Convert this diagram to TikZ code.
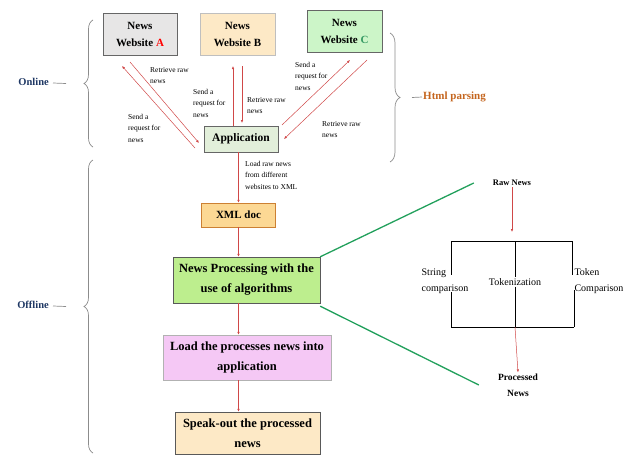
\documentclass[tikz,border=0pt]{standalone}
\usepackage{fontspec}
\setmainfont{Liberation Serif}
\usetikzlibrary{arrows.meta,decorations.pathreplacing,positioning}

\definecolor{boxgray}{HTML}{E7E6E6}
\definecolor{boxtan}{HTML}{FDE9C6}
\definecolor{boxgreen}{HTML}{CCF5C8}
\definecolor{boxapp}{HTML}{E2EFDA}
\definecolor{boxxml}{HTML}{FCD894}
\definecolor{boxproc}{HTML}{BDEE8E}
\definecolor{boxpink}{HTML}{F5C8F5}
\definecolor{arrowred}{HTML}{D04848}
\definecolor{linegreen}{HTML}{22A05C}
\definecolor{navy}{HTML}{1F3864}
\definecolor{parsebrown}{HTML}{C4651E}
\definecolor{bracegray}{HTML}{8C8C8C}

\begin{document}
\begin{tikzpicture}[x=1pt,y=-1pt]
    \useasboundingbox (0,0) rectangle (627,455);

    % main boxes
    \begin{scope}[every node/.style={draw=gray!80!black, thin, align=center, inner sep=1pt, font=\fontsize{11}{17}\selectfont\bfseries}]
        \node[fill=boxgray, minimum width=74pt, minimum height=42pt] (a) at (140,34) {News\\Website \textcolor{red}{A}};
        \node[fill=boxtan, draw=gray!50, minimum width=75pt, minimum height=42pt] (b) at (237.5,34) {News\\Website B};
        \node[fill=boxgreen, minimum width=75pt, minimum height=42pt] (c) at (344.5,31) {News\\Website \textcolor{linegreen!80!gray}{C}};
        \node[fill=boxapp, minimum width=74pt, minimum height=26pt, font=\fontsize{11.5}{17}\selectfont\bfseries] (app) at (241,139) {Application};
        \node[fill=boxxml, draw=orange!60!gray, minimum width=74pt, minimum height=24pt] (xml) at (238.5,215) {XML doc};
    \end{scope}

    \begin{scope}[every node/.style={draw=gray!70!black, thin, align=center, inner sep=1pt, font=\fontsize{12.5}{20}\selectfont\bfseries}]
        \node[fill=boxproc, minimum width=147pt, minimum height=46pt] (np) at (246.5,280) {News Processing with the\\use of algorithms};
        \node[fill=boxpink, draw=gray!60, minimum width=168pt, minimum height=45pt] (load) at (247,357.5) {Load the processes news into\\application};
        \node[fill=boxtan, minimum width=145pt, minimum height=42pt] (speak) at (247.5,433) {Speak-out the processed\\news};
    \end{scope}

    % small labels
    \begin{scope}[every node/.style={anchor=north west, align=left, inner sep=0pt, font=\fontsize{7.5}{11.5}\selectfont}]
        \node (aret) at (150,67) {Retrieve raw\\news};
        \node (asend) at (128,114) {Send a\\request for\\news};
        \node (bsend) at (193,89) {Send a\\request for\\news};
        \node (bret) at (247,97) {Retrieve raw\\news};
        \node (csend) at (295,62) {Send a\\request for\\news};
        \node (cret) at (322,121) {Retrieve raw\\news};
        \node (loadlbl) at (245,161) {Load raw news\\from different\\websites to XML};
    \end{scope}

    % coordinates for the parallel requests
    \coordinate (a1) at (195,148);
    \coordinate (a2) at (122,66);
    \coordinate (a3) at (130,62);
    \coordinate (a4) at (199,143);
    \coordinate (b1) at (233,66);
    \coordinate (b2) at (242,66);
    \coordinate (b3) at (242,123);
    \coordinate (c1) at (282,125);
    \coordinate (c2) at (350,60);
    \coordinate (c3) at (367,60);
    \coordinate (c4) at (284,139);

    \begin{scope}[every edge/.style={draw=arrowred, line width=0.5pt, -{Latex[length=3pt,width=2.5pt]}}]
        \path (a1) edge (a2);
        \path (a3) edge (a4);
        \path (app.north -| b1) edge (b1);
        \path (b2) edge (b3);
        \path (c1) edge (c2);
        \path (c3) edge (c4);
        \path (app.south -| xml.north) edge (xml.north);
        \path (xml.south) edge (xml.south |- np.north);
        \path (np.south -| xml.south) edge (load.north -| xml.south);
        \path (load.south -| xml.south) edge (speak.north -| xml.south);
    \end{scope}

    % braces
    \begin{scope}[every path/.style={draw=bracegray, line width=0.7pt}]
        \draw[decorate, decoration={brace, amplitude=9pt}] (93,147) -- (93,20);
        \draw[decorate, decoration={brace, amplitude=9pt}] (93,453) -- (93,160);
        \draw[decorate, decoration={brace, amplitude=10pt}] (390,33) -- (390,162);
    \end{scope}
    \coordinate (ontip) at (66,83.5);
    \coordinate (offtip) at (66,306.5);
    \coordinate (htmltip) at (412,97.5);

    \node[text=navy, font=\fontsize{10.5}{12}\selectfont\bfseries, anchor=east, inner sep=1pt] (online) at (50,82) {Online};
    \node[text=navy, font=\fontsize{10.5}{12}\selectfont\bfseries, anchor=east, inner sep=1pt] (offline) at (50,305) {Offline};
    \node[text=parsebrown, font=\fontsize{11}{13}\selectfont\bfseries, anchor=west, inner sep=1pt] (html) at (422,97) {Html parsing};
    \draw[bracegray, line width=0.7pt] (online.east) ++(3,1) -- (ontip);
    \draw[bracegray, line width=0.7pt] (offline.east) ++(3,1) -- (offtip);
    \draw[bracegray, line width=0.7pt] (htmltip) -- (html.west);

    % algorithm detail
    \begin{scope}[every node/.style={align=left, inner sep=1pt, font=\fontsize{10}{16}\selectfont}]
        \node[font=\fontsize{8.5}{11}\selectfont\bfseries] (raw) at (512,183) {Raw News};
        \node (tok) at (515,282) {Tokenization};
        \node (strc) at (445,281) {String\\comparison};
        \node (tokc) at (599,281) {Token\\Comparison};
        \node[align=center, font=\fontsize{9.5}{16}\selectfont\bfseries] (proc) at (518,385) {Processed\\News};
    \end{scope}

    \coordinate (ftl) at (451,241);
    \coordinate (ftr) at (572,241);
    \coordinate (fbl) at (451,327);
    \coordinate (fbr) at (574,327);

    \draw[line width=0.5pt] (ftl) -- (ftr);
    \draw[line width=0.5pt] (fbl) -- (fbr);
    \draw[line width=0.5pt] (ftl) -- (451,275);
    \draw[line width=0.5pt] (451,292) -- (fbl);
    \draw[line width=0.5pt] (ftr) -- (572,275);
    \draw[line width=0.5pt] (574,290) -- (fbr);
    \draw[line width=0.5pt] (tok |- ftl) -- (tok.north);
    \draw[line width=0.5pt] (tok.south) -- (tok |- fbl);

    \begin{scope}[every edge/.style={draw=arrowred, line width=0.5pt, -{Latex[length=3pt,width=2.5pt]}}]
        \path (raw.south) edge (512,232);
        \path (tok |- fbl) edge (proc.north);
    \end{scope}

    % links to the processing box
    \draw[linegreen, line width=1.3pt] (np.north east) -- ([xshift=-18pt]raw.west);
    \draw[linegreen, line width=1.3pt] ([yshift=-3pt]np.south east) -- ([xshift=-18pt]proc.west);
\end{tikzpicture}
\end{document}
